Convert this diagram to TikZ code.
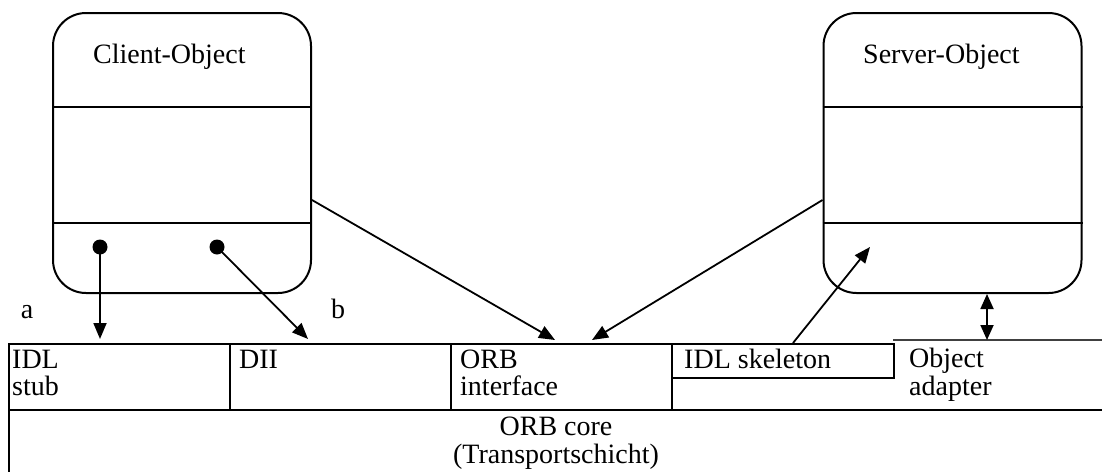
\documentclass[tikz,border=0pt]{standalone}
\usepackage{fontspec}
\setmainfont{Liberation Serif}
\usetikzlibrary{arrows.meta}
\begin{document}
\begin{tikzpicture}[x=1pt,y=-1pt,
  every node/.style={font=\fontsize{28}{33}\selectfont, inner sep=0pt},
  frame/.style={draw, line width=2.2pt, anchor=north west},
  objbox/.style={draw, line width=2pt, rounded corners=33pt,
                 minimum width=258pt, minimum height=280pt},
  divider/.style={line width=2pt},
  link/.style={line width=1.8pt, -{Triangle[length=16pt,width=13pt]}},
  twoway/.style={line width=1.8pt,
                 {Triangle[length=15pt,width=13pt]}-{Triangle[length=15pt,width=13pt]}},
  dot/.style={circle, fill, minimum size=15pt},
  txt/.style={anchor=base west},
  ctxt/.style={anchor=base}]

\useasboundingbox (0,0) rectangle (1102,471);
\clip (0,0) rectangle (1102,471);

% client and server objects
\node[objbox] (client) at (182,153) {};
\node[objbox] (server) at (952.5,153) {};
\foreach \o in {client,server} {
  \draw[divider] (\o.west |- 0,107) -- (\o.east |- 0,107);
  \draw[divider] (\o.west |- 0,223) -- (\o.east |- 0,223);
}
\node[txt] (clientlbl) at (93,63) {Client-Object};
\node[txt] (serverlbl) at (863,63) {Server-Object};

% invocation points of the client
\node[dot] (pa) at (100,247) {};
\node[dot] (pb) at (217,247) {};

% ORB layer
\node[frame, minimum width=1200pt, minimum height=200pt] (core) at (8,409) {};
\node[frame, minimum width=221pt, minimum height=66pt] (stub) at (8,343) {};
\node[frame, minimum width=221pt, minimum height=66pt] (dii) at (229,343) {};
\node[frame, minimum width=221pt, minimum height=66pt] (orbif) at (450,343) {};
\node[frame, minimum width=222pt, minimum height=34pt] (skel) at (671,343) {};
\coordinate (oa) at (893,340);
\draw[line width=1.6pt, black!75] (oa) -- ++(220,0);

% texts of the layer
\node[txt] (tstub1) at (12,368) {IDL};
\node[txt] (tstub2) at (12,395) {stub};
\node[txt] (tdii) at (239,368) {DII};
\node[txt] (torb1) at (460,368) {ORB};
\node[txt] (torb2) at (460,395) {interface};
\node[txt] (tskel) at (684,368) {IDL skeleton};
\node[txt] (toa1) at (909,367) {Object};
\node[txt] (toa2) at (909,395) {adapter};
\node[ctxt] (tcore1) at (556,435) {ORB core};
\node[ctxt] (tcore2) at (556,463) {(Transportschicht)};

% connectors
\coordinate (ina) at (100,339);
\coordinate (inb) at (308,339);
\coordinate (orbin1) at (555,340);
\coordinate (orbin2) at (592,340);
\coordinate (skelout) at (793,343);
\coordinate (srvin) at (870,247);
\coordinate (oatop) at (987,340);

\draw[link] (pa.center) -- (ina);
\draw[link] (pb.center) -- (inb);
\draw[link] (client.east |- 0,200) -- (orbin1);
\draw[link] (server.west |- 0,200) -- (orbin2);
\draw[link] (skelout) -- (srvin);
\draw[twoway] (server.south -| oatop) -- (oatop);

\node[ctxt] (la) at (27,318) {a};
\node[ctxt] (lb) at (338,318) {b};
\end{tikzpicture}
\end{document}
